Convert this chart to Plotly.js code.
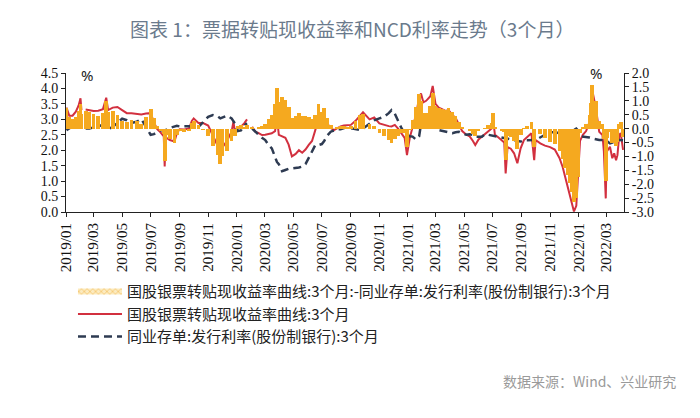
<!DOCTYPE html>
<html>
<head>
<meta charset="utf-8">
<script src="https://cdn.plot.ly/plotly-3.0.1.min.js"></script>
<style>
  html, body { margin: 0; padding: 0; background: #ffffff; }
  #chart { width: 700px; height: 418px; }
</style>
</head>
<body>
<div id="chart"></div>
<script>
// ---- data ----
const dates = [
"2019-01-02","2019-01-08","2019-01-15","2019-01-22","2019-01-28","2019-02-01","2019-02-03","2019-02-08","2019-02-12","2019-02-20",
"2019-03-01","2019-03-11","2019-03-21","2019-03-28","2019-04-01","2019-04-11","2019-04-21",
"2019-05-01","2019-05-11","2019-05-21","2019-06-01","2019-06-11","2019-06-21",
"2019-07-01","2019-07-08","2019-07-15","2019-07-22","2019-07-29","2019-07-31","2019-08-02","2019-08-11","2019-08-21","2019-08-26",
"2019-09-01","2019-09-11","2019-09-21","2019-09-27","2019-10-01","2019-10-11","2019-10-21",
"2019-11-01","2019-11-11","2019-11-21","2019-11-27","2019-12-01","2019-12-11","2019-12-21","2019-12-25","2019-12-28",
"2020-01-03","2020-01-10","2020-01-17","2020-01-23","2020-01-28","2020-02-03","2020-02-10","2020-02-17","2020-02-24",
"2020-03-02","2020-03-09","2020-03-16","2020-03-23","2020-03-27","2020-03-31","2020-04-07","2020-04-14","2020-04-21","2020-04-28",
"2020-05-06","2020-05-13","2020-05-20","2020-05-27","2020-06-03","2020-06-10","2020-06-17","2020-06-24",
"2020-07-01","2020-07-06","2020-07-13","2020-07-20","2020-07-27","2020-08-03","2020-08-10","2020-08-17","2020-08-24",
"2020-09-01","2020-09-11","2020-09-21","2020-09-27","2020-10-11","2020-10-21","2020-11-01","2020-11-11","2020-11-21","2020-11-27",
"2020-12-04","2020-12-11","2020-12-18","2020-12-25","2020-12-30",
"2021-01-05","2021-01-11","2021-01-18","2021-01-25","2021-01-29","2021-02-03","2021-02-09","2021-02-18","2021-02-23",
"2021-03-01","2021-03-08","2021-03-15","2021-03-22","2021-03-29","2021-04-06","2021-04-13","2021-04-20","2021-04-27",
"2021-05-06","2021-05-13","2021-05-20","2021-05-25","2021-06-01","2021-06-08","2021-06-15","2021-06-22","2021-06-29",
"2021-07-02","2021-07-06","2021-07-13","2021-07-20","2021-07-26","2021-07-29","2021-08-02","2021-08-09","2021-08-16","2021-08-23","2021-08-30",
"2021-09-06","2021-09-13","2021-09-22","2021-09-28","2021-10-01","2021-10-11","2021-10-21","2021-11-01","2021-11-11","2021-11-21","2021-11-28",
"2021-12-03","2021-12-08","2021-12-13","2021-12-17","2021-12-22","2021-12-27","2021-12-30",
"2022-01-04","2022-01-10","2022-01-17","2022-01-24","2022-01-28","2022-01-30","2022-02-07","2022-02-14","2022-02-21","2022-02-24","2022-02-28",
"2022-03-02","2022-03-09","2022-03-14","2022-03-18","2022-03-22","2022-03-25","2022-03-29","2022-04-01","2022-04-06"
];

// 国股银票转贴现收益率曲线:3个月 (%)
const billRate = [
3.38,3.12,3.12,3.25,3.45,3.68,3.30,null,3.32,3.30,
3.27,3.28,3.33,3.70,3.30,3.38,3.40,
3.30,3.20,3.20,3.19,3.16,3.19,
3.20,2.90,2.68,2.58,2.45,1.47,2.42,2.33,2.28,2.55,
2.68,2.67,2.70,2.95,3.03,2.88,2.88,
2.80,2.50,2.15,1.74,2.08,2.30,2.60,2.92,2.62,
2.70,2.76,2.87,3.00,null,2.76,2.60,2.55,2.49,
2.50,2.52,2.55,2.62,3.08,2.50,2.45,2.40,2.18,1.80,
1.88,2.00,1.92,2.02,2.17,2.30,2.65,3.05,
2.78,3.05,2.85,2.72,2.65,2.72,2.77,2.80,2.82,
2.82,2.95,3.15,3.23,3.00,3.06,2.87,2.82,2.78,2.77,
2.82,2.70,2.55,2.40,1.84,
2.40,2.75,3.12,3.70,3.84,3.55,3.60,3.75,4.08,
3.50,3.38,3.33,3.27,3.30,3.14,3.05,2.85,2.62,
2.50,2.45,2.30,2.17,2.35,2.44,2.55,2.62,2.70,
3.03,2.50,2.42,2.33,2.25,1.25,2.10,2.05,1.90,1.58,2.06,
2.33,2.42,2.55,1.68,2.33,2.22,2.15,2.10,2.02,1.75,1.45,
1.15,0.85,0.55,0.28,0.02,0.20,0.90,
2.30,2.50,2.62,2.90,3.30,3.95,3.35,2.60,2.49,1.95,0.44,
1.95,2.11,1.74,1.90,1.68,1.84,2.50,2.55,2.01
];

// 同业存单:发行利率(股份制银行):3个月 (%)
const ncdRate = [
2.65,2.72,2.78,2.82,2.80,2.79,2.78,null,2.70,2.70,
2.74,2.82,2.77,2.70,2.69,2.75,2.90,
3.02,2.97,2.88,2.92,3.01,2.76,
2.50,2.52,2.60,2.65,2.65,2.65,2.65,2.72,2.78,2.79,
2.77,2.78,2.78,2.76,2.75,2.75,2.92,
3.08,3.14,3.10,3.03,3.05,3.12,3.03,2.95,2.87,
2.62,2.64,2.80,2.87,null,2.70,2.60,2.48,2.40,
2.33,2.17,2.06,1.75,1.62,1.55,1.32,1.36,1.40,1.41,
1.42,1.44,1.47,1.55,1.75,1.95,2.17,2.17,
2.20,2.30,2.48,2.60,2.65,2.68,2.68,2.72,2.75,
2.71,2.68,2.65,2.70,2.85,2.97,3.03,3.08,3.20,3.30,
3.18,2.95,2.72,2.55,2.50,
2.45,2.44,2.35,2.45,2.85,2.98,3.03,2.92,2.80,
2.70,2.65,2.62,2.60,2.57,2.55,2.58,2.60,2.55,
2.50,2.52,2.50,2.44,2.45,2.44,2.52,2.50,2.49,
2.48,2.45,2.44,2.41,2.39,2.38,2.37,2.35,2.33,2.30,2.28,
2.32,2.33,2.33,2.33,2.33,2.42,2.50,2.58,2.58,2.55,2.55,
2.55,2.52,2.50,2.55,2.65,2.70,2.65,
2.45,2.44,2.44,2.41,2.39,2.38,2.34,2.33,2.33,2.33,2.33,
2.30,2.22,2.25,2.28,2.30,2.33,2.33,2.33,2.32
];

// spread series as named in the legend: bill rate minus NCD rate
const spread = billRate.map((r, i) =>
  (r === null || ncdRate[i] === null) ? null : Math.round((r - ncdRate[i]) * 100) / 100);

const leftTicks = [0, 0.5, 1, 1.5, 2, 2.5, 3, 3.5, 4, 4.5];
const leftTickText = ["0.0","0.5","1.0","1.5","2.0","2.5","3.0","3.5","4.0","4.5"];
const rightTicks = [-3, -2.5, -2, -1.5, -1, -0.5, 0, 0.5, 1, 1.5, 2];
const rightTickText = ["-3.0","-2.5","-2.0","-1.5","-1.0","-0.5","0.0","0.5","1.0","1.5","2.0"];

const nameSpread = "国股银票转贴现收益率曲线:3个月:-同业存单:发行利率(股份制银行):3个月";
const nameBill = "国股银票转贴现收益率曲线:3个月";
const nameNcd = "同业存单:发行利率(股份制银行):3个月";

// ---- traces ----
const traces = [
  { // legend entry only (hatched swatch like the original), draws nothing
    type: "scatter", mode: "none", name: nameSpread, x: [null], y: [null], yaxis: "y2",
    fill: "toself", fillcolor: "#FBE3A8",
    fillpattern: { shape: "x", fgcolor: "#F0B545", bgcolor: "#FCEBC0", size: 4, solidity: 0.25 },
    hoverinfo: "skip"
  },
  {
    type: "bar", name: nameSpread, x: dates, y: spread, yaxis: "y2", showlegend: false,
    width: 8 * 24 * 3600 * 1000,
    marker: { color: "#F5A91F", line: { width: 0 } },
    hoverinfo: "skip"
  },
  {
    type: "scatter", mode: "lines", name: nameBill, x: dates, y: billRate,
    line: { color: "#D2303F", width: 2 }, connectgaps: false
  },
  {
    type: "scatter", mode: "lines", name: nameNcd, x: dates, y: ncdRate,
    line: { color: "#2E3B52", width: 2.5, dash: "8px,5px" }, connectgaps: false
  }
];

const tickFontX = { family: "Liberation Serif, Times New Roman, serif", size: 15, color: "#111111" };
const tickFontY = { family: "Liberation Serif, Times New Roman, serif", size: 14, color: "#111111" };

const layout = {
  width: 700, height: 418,
  margin: { l: 66, r: 76, t: 73, b: 206 },
  paper_bgcolor: "#ffffff", plot_bgcolor: "#ffffff",
  showlegend: true,
  title: {
    text: "图表 1：票据转贴现收益率和NCD利率走势（3个月）",
    font: { family: "Noto Sans CJK SC, sans-serif", size: 19, color: "#6A7A8C" },
    xref: "paper", x: 0.513, xanchor: "center",
    yref: "container", y: 0.928, yanchor: "middle"
  },
  xaxis: {
    type: "date",
    range: ["2019-01-01", "2022-04-08"],
    tick0: "2019-01-01", dtick: "M2", tickformat: "%Y/%m",
    tickangle: -90, tickfont: tickFontX,
    ticks: "outside", ticklen: 4, tickcolor: "#222",
    showline: true, linecolor: "#222", linewidth: 1,
    showgrid: false, zeroline: false, fixedrange: true
  },
  yaxis: {
    range: [0, 4.5], tickvals: leftTicks, ticktext: leftTickText,
    tickfont: tickFontY, ticks: "outside", ticklen: 4, tickcolor: "#222",
    showline: true, linecolor: "#222", linewidth: 1,
    showgrid: false, zeroline: false
  },
  yaxis2: {
    range: [-3, 2], tickvals: rightTicks, ticktext: rightTickText,
    overlaying: "y", side: "right",
    tickfont: tickFontY, ticks: "outside", ticklen: 4, tickcolor: "#222",
    showline: true, linecolor: "#222", linewidth: 1,
    showgrid: false, zeroline: false
  },
  bargap: 0,
  legend: {
    orientation: "v", x: 0.0125, xanchor: "left", y: -0.455, yanchor: "top",
    font: { family: "Noto Sans CJK SC, sans-serif", size: 15, color: "#222" },
    itemwidth: 44, tracegroupgap: 0, bgcolor: "rgba(0,0,0,0)"
  },
  annotations: [
    { text: "%", xref: "paper", yref: "paper", x: 0.037, y: 0.985, xanchor: "center", yanchor: "middle",
      showarrow: false, font: { family: "Noto Sans, sans-serif", size: 15, color: "#222" } },
    { text: "%", xref: "paper", yref: "paper", x: 0.95, y: 1.0, xanchor: "center", yanchor: "middle",
      showarrow: false, font: { family: "Noto Sans, sans-serif", size: 15, color: "#222" } },
    { text: "数据来源：Wind、兴业研究", xref: "paper", yref: "paper", x: 1.097, y: -1.216,
      xanchor: "right", yanchor: "middle", showarrow: false,
      font: { family: "Noto Sans CJK SC, sans-serif", size: 14, color: "#9A9A9A" } }
  ]
};

Plotly.newPlot("chart", traces, layout, { displayModeBar: false, staticPlot: true });
</script>
</body>
</html>
